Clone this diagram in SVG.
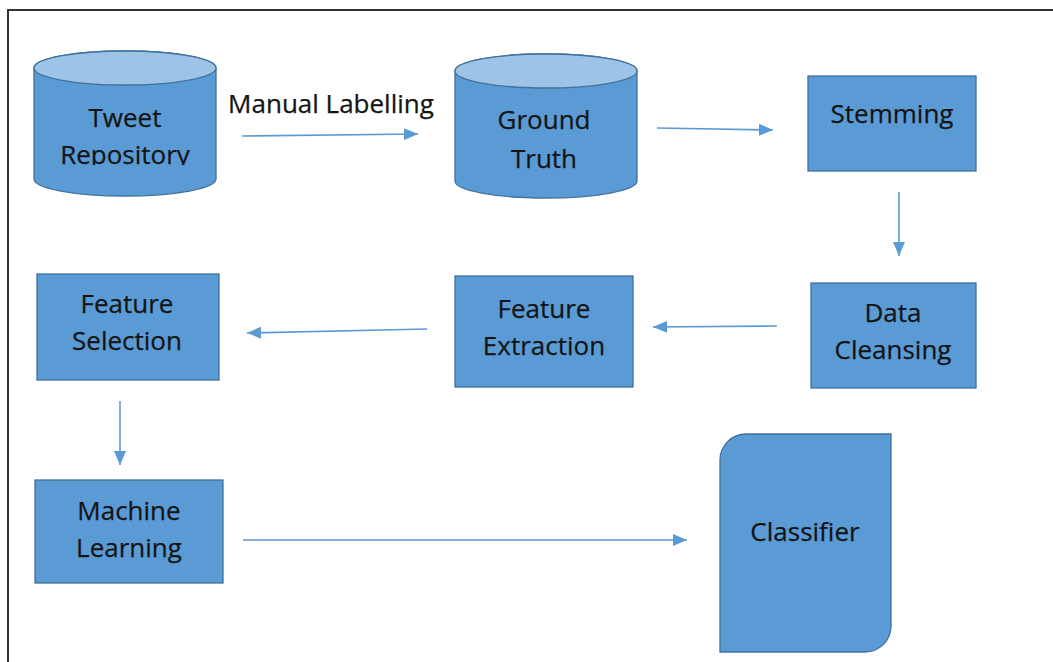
<svg xmlns="http://www.w3.org/2000/svg" width="1053" height="662" viewBox="0 0 1053 662">
<defs>
<marker id="ah" viewBox="0 0 14 12" refX="14" refY="6" markerWidth="14" markerHeight="12" markerUnits="userSpaceOnUse" orient="auto">
<path d="M0,0 L14,6 L0,12 z" fill="#5B9BD5"/>
</marker>
<clipPath id="clipTR"><rect x="30" y="40" width="200" height="125"/></clipPath>
</defs>
<style>
.shape{fill:#5B9BD5;stroke:#41719C;stroke-width:1.3}
.top{fill:#9DC3E6;stroke:#41719C;stroke-width:1.3}
.lbl{font-family:"Open Sans",sans-serif;font-size:26px;fill:#141414;stroke:#141414;stroke-width:0.25;text-anchor:middle}
.conn{stroke:#5B9BD5;stroke-width:1.6;fill:none;marker-end:url(#ah)}
</style>
<rect width="1053" height="662" fill="#fff"/>
<path d="M8,662 L8,10 L1053,10" fill="none" stroke="#333" stroke-width="2"/>

<g id="tweet-repository">
<path class="shape" d="M34,68 L34,179 A91,17 0 0 0 216,179 L216,68 A91,17 0 0 0 34,68 z"/>
<ellipse class="top" cx="125" cy="68" rx="91" ry="17"/>
<g clip-path="url(#clipTR)">
<text class="lbl" x="125" y="127">Tweet</text>
<text class="lbl" x="125" y="164">Repository</text>
</g>
</g>

<g id="ground-truth">
<path class="shape" d="M455,71 L455,181 A91,17 0 0 0 637,181 L637,71 A91,17 0 0 0 455,71 z"/>
<ellipse class="top" cx="546" cy="71" rx="91" ry="17"/>
<text class="lbl" x="544" y="129">Ground</text>
<text class="lbl" x="544" y="168">Truth</text>
</g>

<g id="stemming">
<rect class="shape" x="808" y="76" width="168" height="95"/>
<text class="lbl" x="892" y="123">Stemming</text>
</g>

<g id="data-cleansing">
<rect class="shape" x="811" y="283" width="165" height="105"/>
<text class="lbl" x="893" y="322">Data</text>
<text class="lbl" x="893" y="359">Cleansing</text>
</g>

<g id="feature-extraction">
<rect class="shape" x="455" y="276" width="178" height="111"/>
<text class="lbl" x="544" y="318">Feature</text>
<text class="lbl" x="544" y="355">Extraction</text>
</g>

<g id="feature-selection">
<rect class="shape" x="37" y="274" width="182" height="106"/>
<text class="lbl" x="127" y="313">Feature</text>
<text class="lbl" x="127" y="350">Selection</text>
</g>

<g id="machine-learning">
<rect class="shape" x="35" y="480" width="188" height="103"/>
<text class="lbl" x="129" y="520">Machine</text>
<text class="lbl" x="129" y="557">Learning</text>
</g>

<g id="classifier">
<path class="shape" d="M746,434 L891,434 L891,626 A26,26 0 0 1 865,652 L720,652 L720,460 A26,26 0 0 1 746,434 z"/>
<text class="lbl" x="805" y="541">Classifier</text>
</g>

<g id="connectors">
<path class="conn" d="M242,136 L418,134"/>
<text class="lbl" x="331" y="113">Manual Labelling</text>
<path class="conn" d="M657,128 L773,130"/>
<path class="conn" d="M899,192 L899,256"/>
<path class="conn" d="M777,326 L653,327"/>
<path class="conn" d="M427,329 L247,333"/>
<path class="conn" d="M120,401 L120,465"/>
<path class="conn" d="M243,540 L687,540"/>
</g>
</svg>
